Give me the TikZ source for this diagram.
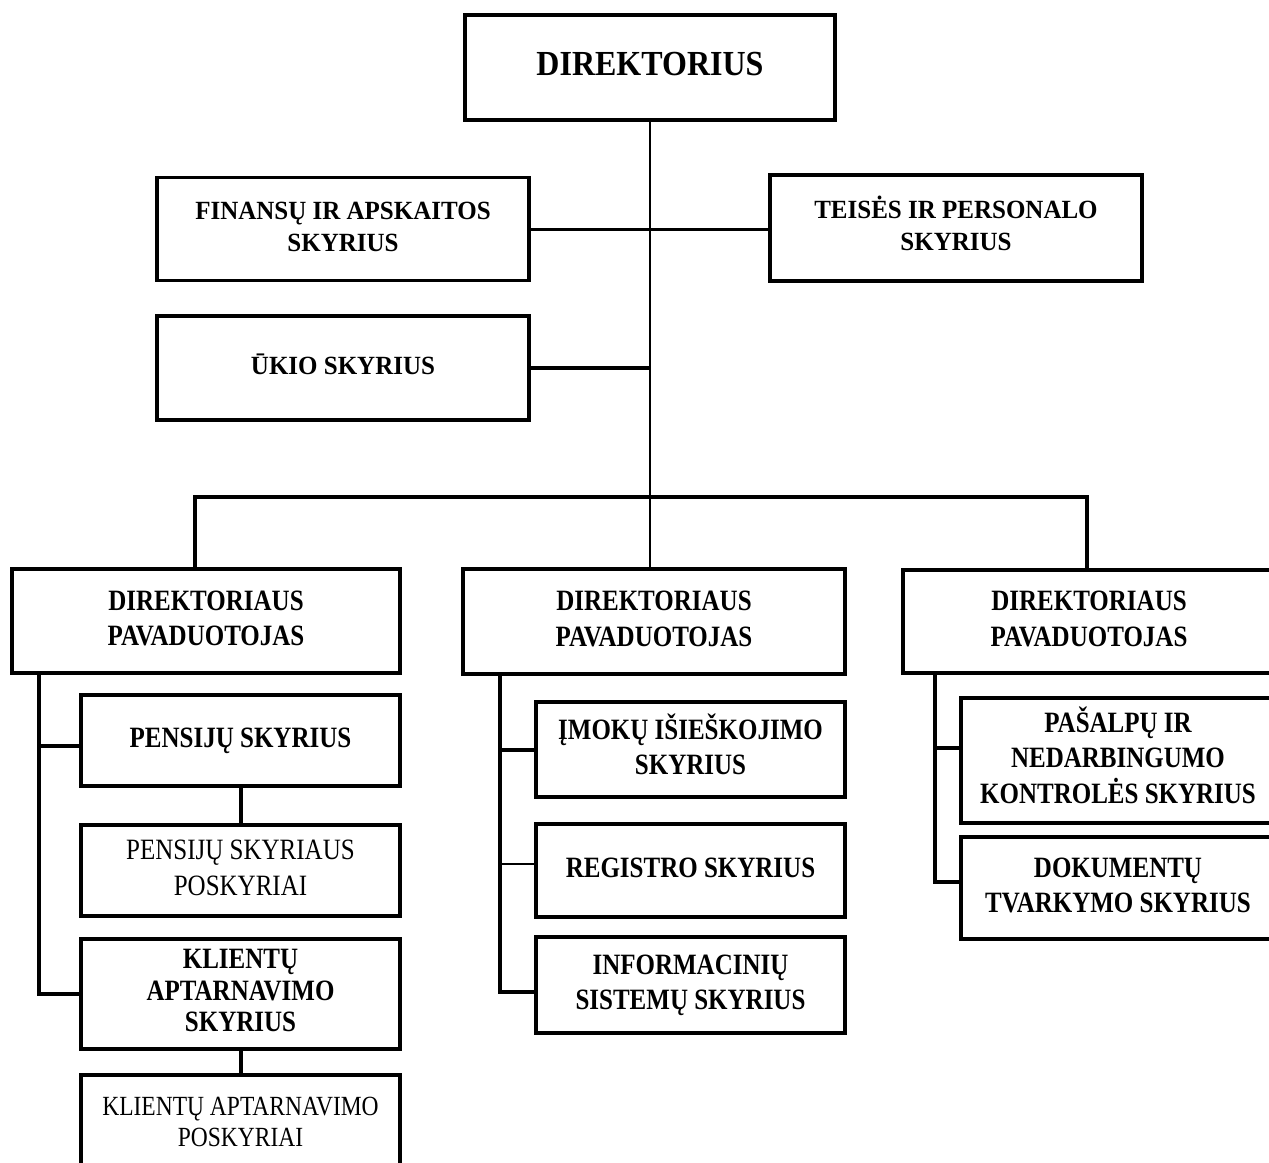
\documentclass[tikz,border=0pt]{standalone}
\usepackage{graphicx}
\usepackage{fontspec}
\setmainfont{Liberation Serif}
\newcommand\tx[2][1.15]{\scalebox{1}[#1]{\begin{tabular}{@{}c@{}}#2\end{tabular}}}
\tikzset{
  box/.style={draw=black, line width=3.5pt, fill=white, inner sep=0pt, align=center,
    font=\fontsize{25}{30}\selectfont\bfseries},
  plainbox/.style={box, font=\fontsize{25}{30}\selectfont},
  thinline/.style={line width=2pt},
  midline/.style={line width=3pt},
  thickline/.style={line width=4pt},
}
\begin{document}
\begin{tikzpicture}[x=1pt,y=-1pt]
\useasboundingbox (0,0) rectangle (1269,1162);
\clip (0,0) rectangle (1269,1162);
\fill[white] (0,0) rectangle (1269,1162);
% coordinates for trunks
\coordinate (bl) at (195,497);
\coordinate (br) at (1087,497);
\coordinate (l1) at (39,700);
\coordinate (l2) at (500,700);
\coordinate (l3) at (935,700);
% boxes
\node[box, minimum width=370pt, minimum height=105pt, font=\fontsize{32}{38}\selectfont\bfseries] (dir) at (650,67.5) {\tx[1.1]{DIREKTORIUS}};
\node[box, minimum width=372pt, minimum height=103pt] (fin) at (343,229) {\tx[1.05]{FINANSŲ IR APSKAITOS\\SKYRIUS}};
\node[box, minimum width=372pt, minimum height=106pt] (tei) at (956,228) {\tx[1.05]{TEISĖS IR PERSONALO\\SKYRIUS}};
\node[box, minimum width=372pt, minimum height=104pt] (uki) at (343,368) {\tx[1.05]{ŪKIO SKYRIUS}};
\node[box, minimum width=388pt, minimum height=104pt] (dp1) at (206,621) {\tx[1.18]{DIREKTORIAUS\\PAVADUOTOJAS}};
\node[box, minimum width=382pt, minimum height=105pt] (dp2) at (654,621.5) {\tx[1.18]{DIREKTORIAUS\\PAVADUOTOJAS}};
\node[box, minimum width=372pt, minimum height=103pt] (dp3) at (1089,621.5) {\tx[1.18]{DIREKTORIAUS\\PAVADUOTOJAS}};
\node[box, minimum width=319pt, minimum height=91pt] (pen) at (240.5,740.5) {\tx[1.18]{PENSIJŲ SKYRIUS}};
\node[plainbox, minimum width=319pt, minimum height=91pt] (penp) at (240.5,870.5) {\tx[1.18]{PENSIJŲ SKYRIAUS\\POSKYRIAI}};
\node[box, minimum width=319pt, minimum height=110pt, font=\fontsize{25}{26.5}\selectfont\bfseries] (kli) at (240.5,994) {\tx[1.18]{KLIENTŲ\\APTARNAVIMO\\SKYRIUS}};
\node[plainbox, minimum width=319pt, minimum height=100pt, font=\fontsize{23.5}{26.5}\selectfont] (klip) at (240.5,1125) {\raisebox{12pt}{\tx[1.18]{KLIENTŲ APTARNAVIMO\\POSKYRIAI}}};
\node[box, minimum width=309pt, minimum height=95pt] (imo) at (690.5,749.5) {\tx[1.18]{ĮMOKŲ IŠIEŠKOJIMO\\SKYRIUS}};
\node[box, minimum width=309pt, minimum height=93pt] (reg) at (690.5,870.5) {\tx[1.18]{REGISTRO SKYRIUS}};
\node[box, minimum width=309pt, minimum height=96pt] (inf) at (690.5,985) {\tx[1.18]{INFORMACINIŲ\\SISTEMŲ SKYRIUS}};
\node[box, minimum width=314pt, minimum height=125pt] (pas) at (1118,760.5) {\tx[1.18]{PAŠALPŲ IR\\NEDARBINGUMO\\KONTROLĖS SKYRIUS}};
\node[box, minimum width=314pt, minimum height=102pt] (dok) at (1118,888) {\tx[1.18]{DOKUMENTŲ\\TVARKYMO SKYRIUS}};
% top connectors
\draw[thinline] (dir.south) -- (dir.south |- dp2.north);
\draw[midline] (fin.east) -- (fin.east -| tei.west);
\draw[thickline] (uki.east) -- (uki.east -| dir.south);
\draw[thickline] (dp1.north -| bl) -- (bl) -- (br) -- (dp3.north -| br);
% left subtree
\draw[thickline] (dp1.south -| l1) |- (kli.west);
\draw[thickline] ([yshift=-5pt]pen.west) -- ([yshift=-5pt]pen.west -| l1);
\draw[thickline] (pen.south) -- (penp.north);
\draw[thickline] (kli.south) -- (klip.north);
% middle subtree
\draw[thickline] (dp2.south -| l2) |- ([yshift=-7pt]inf.west);
\draw[thickline] (imo.west) -- (imo.west -| l2);
\draw[thinline] ([yshift=7pt]reg.west) -- ([yshift=7pt]reg.west -| l2);
% right subtree
\draw[thickline] (dp3.south -| l3) |- ([yshift=6pt]dok.west);
\draw[thickline] ([yshift=13pt]pas.west) -- ([yshift=13pt]pas.west -| l3);
\end{tikzpicture}
\end{document}
